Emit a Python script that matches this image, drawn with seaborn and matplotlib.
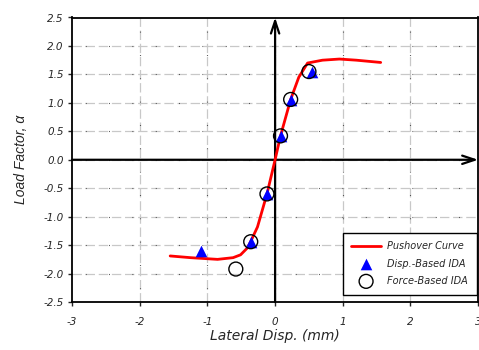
import matplotlib
matplotlib.use("Agg")
import matplotlib.pyplot as plt
import seaborn as sns
import pandas as pd

# Pushover curve (lateral displacement in mm vs load factor)
push_x = [-1.55, -1.25, -0.85, -0.62, -0.51, -0.41, -0.37, -0.26, -0.12, 0.0, 0.08, 0.23, 0.35, 0.48, 0.7, 0.95, 1.2, 1.56]
push_y = [-1.69, -1.72, -1.75, -1.72, -1.67, -1.55, -1.46, -1.18, -0.60, 0.0, 0.42, 1.06, 1.45, 1.70, 1.75, 1.77, 1.75, 1.71]

# Displacement-based IDA results
disp_x = [-1.09, -0.36, -0.12, 0.08, 0.23, 0.54]
disp_y = [-1.60, -1.44, -0.60, 0.42, 1.05, 1.54]

# Force-based IDA results
force_x = [-0.58, -0.36, -0.12, 0.08, 0.23, 0.50]
force_y = [-1.92, -1.44, -0.60, 0.42, 1.06, 1.55]

x_ticks = [-3, -2, -1, 0, 1, 2, 3]
y_ticks = [-2.5, -2.0, -1.5, -1.0, -0.5, 0.0, 0.5, 1.0, 1.5, 2.0, 2.5]

sns.set_style("ticks")
plt.rcParams["font.family"] = ["DejaVu Sans"]

fig = plt.figure(figsize=(4.79, 3.5), dpi=100)
ax = fig.add_axes([0.1503, 0.137, 0.848, 0.813])

push = pd.DataFrame({"x": push_x, "y": push_y})
disp = pd.DataFrame({"x": disp_x, "y": disp_y})
force = pd.DataFrame({"x": force_x, "y": force_y})

# Grid: light gray dashes with small dark dots in between
for v in x_ticks[1:-1]:
    ax.axvline(v, color="#c8c8c8", lw=0.9, ls=(0, (7.5, 3.0)), zorder=0)
    ax.axvline(v, color="#333333", lw=0.8, ls=(9.0, (0.7, 20.3)), zorder=0)
for v in y_ticks[1:-1]:
    ax.axhline(v, color="#c8c8c8", lw=0.9, ls=(0, (7.5, 3.0)), zorder=0)
    ax.axhline(v, color="#333333", lw=0.8, ls=(9.0, (0.7, 20.3)), zorder=0)

# Coordinate axes through the origin
arrow = dict(arrowstyle="->,head_length=0.9,head_width=0.3", color="black", lw=1.6,
             shrinkA=0, shrinkB=0)
ax.annotate("", xy=(3.0, 0), xytext=(-3.0, 0), arrowprops=arrow, zorder=1)
ax.annotate("", xy=(0, 2.5), xytext=(0, -2.5), arrowprops=arrow, zorder=1)

sns.lineplot(data=push, x="x", y="y", sort=False, color="red", lw=2.0, ax=ax,
             label="Pushover Curve", zorder=3)
sns.scatterplot(data=disp, x="x", y="y", marker="^", s=70, color="blue", edgecolor="blue",
                linewidth=0, ax=ax, label="Disp.-Based IDA", zorder=4)
sns.scatterplot(data=force, x="x", y="y", marker="o", s=100, facecolor="none", edgecolor="black",
                linewidth=1.0, ax=ax, label="Force-Based IDA", zorder=5)

ax.set_xlim(-3, 3)
ax.set_ylim(-2.5, 2.5)
ax.set_xticks(x_ticks)
ax.set_yticks(y_ticks)
ax.set_xticklabels([f"{v:d}" for v in x_ticks], fontstyle="italic", fontsize=7.5)
ax.set_yticklabels([f"{v:.1f}" for v in y_ticks], fontstyle="italic", fontsize=7.5)
ax.tick_params(direction="out", length=3, width=1, pad=3)
ax.xaxis.set_tick_params(pad=8)

for s in ax.spines.values():
    s.set_visible(True)
    s.set_linewidth(1.3)
    s.set_color("black")

ax.set_xlabel("Lateral Disp. (mm)", fontstyle="italic", fontsize=10, labelpad=1)
ax.set_ylabel("Load Factor, α", fontstyle="italic", fontsize=10,
              family=["Liberation Sans", "DejaVu Sans"], labelpad=11)

leg = ax.legend(loc="lower right", bbox_to_anchor=(0.997, 0.026), borderaxespad=0,
                fancybox=False, framealpha=1, edgecolor="black",
                prop={"style": "italic", "size": 7},
                handlelength=3.0, handletextpad=0.7, borderpad=0.9, labelspacing=0.75)
leg.get_frame().set_linewidth(1.0)

fig.savefig("out.png", dpi=100)
